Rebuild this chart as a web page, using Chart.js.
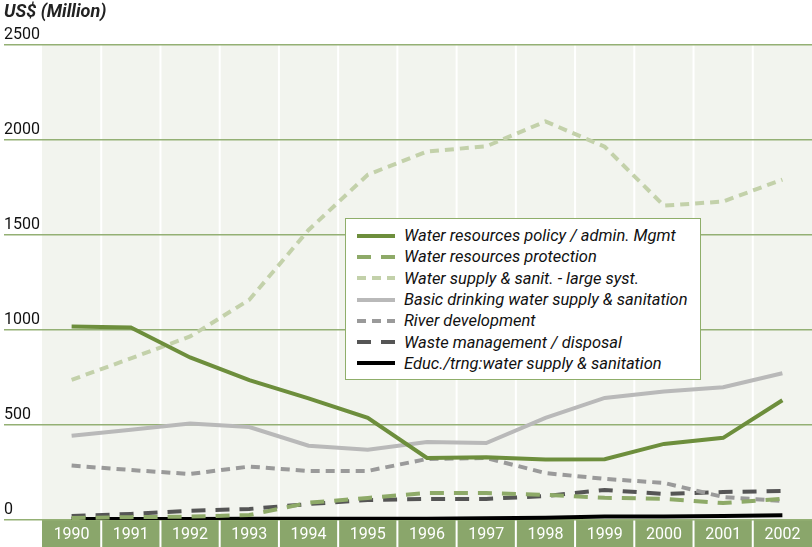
<!DOCTYPE html>
<html>
<head>
<meta charset="utf-8">
<script src="https://cdn.jsdelivr.net/npm/chart.js@4.4.0/dist/chart.umd.min.js"></script>
<style>
    html, body { margin: 0; padding: 0; background: #fff; }
    #wrap { position: relative; width: 812px; height: 547px; }
    #legend {
        position: absolute; left: 345px; top: 218px; width: 356px; height: 162px;
        background: #fff; border: 1.5px solid #8fae6a;
        font-family: Roboto, sans-serif;
        font-style: italic; font-size: 16.5px; color: #111;
        padding-top: 6px; box-sizing: border-box;
    }
    .item { display: flex; align-items: center; height: 21.3px; padding-left: 11px; }
    .item svg { margin-right: 9px; flex: none; }
</style>
</head>
<body>
<div id="wrap">
    <canvas id="chart" width="812" height="547"></canvas>
    <div id="legend"></div>
</div>
<script>
const years = ['1990', '1991', '1992', '1993', '1994', '1995', '1996', '1997', '1998', '1999', '2000', '2001', '2002'];
const yTicks = [0, 500, 1000, 1500, 2000, 2500];

const policyMgmt = [1017, 1012, 855, 735, 640, 537, 326, 330, 318, 320, 400, 432, 630];
const resourceProtection = [10, 15, 18, 26, 91, 116, 142, 142, 132, 117, 111, 89, 111];
const largeSystems = [737, 850, 965, 1158, 1525, 1816, 1938, 1965, 2096, 1963, 1653, 1675, 1790];
const basicDrinking = [443, 475, 508, 489, 391, 370, 410, 405, 537, 642, 676, 698, 772];
const riverDev = [286, 263, 242, 281, 258, 258, 321, 326, 247, 216, 195, 121, 100];
const wasteMgmt = [21, 32, 49, 58, 84, 105, 111, 111, 126, 158, 137, 147, 153];
const education = [5, 5, 5, 6, 6, 6, 7, 9, 12, 18, 19, 21, 25];

const baseFont = 'Roboto, sans-serif';

function series(label, data, color, dash) {
    return {
        label, data,
        borderColor: color,
        backgroundColor: color,
        borderWidth: 4,
        borderDash: dash,
        pointRadius: 0,
        tension: 0,
        fill: false
    };
}

// plot background, green label band and white column separators
const bandsPlugin = {
    id: 'bands',
    beforeDraw(chart) {
        const { ctx, chartArea, scales } = chart;
        const x = scales.x;
        ctx.save();
        ctx.fillStyle = '#f2f4ee';
        ctx.fillRect(chartArea.left, chartArea.top, chartArea.right - chartArea.left, chartArea.bottom - chartArea.top);
        ctx.fillStyle = '#8aa66b';
        ctx.fillRect(chartArea.left, chartArea.bottom, chartArea.right - chartArea.left, chart.height - chartArea.bottom);
        ctx.strokeStyle = '#fff';
        ctx.lineWidth = 2;
        for (let i = 1; i < years.length; i++) {
            const px = (x.getPixelForValue(i - 1) + x.getPixelForValue(i)) / 2;
            ctx.beginPath();
            ctx.moveTo(px, chartArea.top);
            ctx.lineTo(px, chart.height);
            ctx.stroke();
        }
        ctx.restore();
    }
};

const chart = new Chart(document.getElementById('chart'), {
    type: 'line',
    data: {
        labels: years,
        datasets: [
            series('Water resources policy / admin. Mgmt', policyMgmt, '#6d8e3c', []),
            series('Water resources protection', resourceProtection, '#8eaa68', [14, 10]),
            series('Water supply & sanit. - large syst.', largeSystems, '#c3d1aa', [9, 6]),
            series('Basic drinking water supply & sanitation', basicDrinking, '#b9b9b9', []),
            series('River development', riverDev, '#9a9a9a', [9, 6]),
            series('Waste management / disposal', wasteMgmt, '#555555', [14, 10]),
            series('Educ./trng:water supply & sanitation', education, '#000000', [])
        ]
    },
    options: {
        responsive: false,
        animation: false,
        layout: { padding: { left: 4, right: 0, top: 0, bottom: 0 } },
        plugins: {
            legend: { display: false },
            tooltip: { enabled: false },
            title: {
                display: true,
                text: 'US$ (Million)',
                align: 'start',
                color: '#222',
                font: { family: baseFont, size: 18, style: 'italic', weight: 'bold' },
                padding: { top: 2, bottom: 21 }
            }
        },
        scales: {
            x: {
                offset: true,
                grid: { display: false, drawTicks: false },
                border: { display: false },
                ticks: { color: '#fff', font: { family: baseFont, size: 16 }, padding: 5, maxRotation: 0 },
                afterFit(scale) { scale.height = 27; }
            },
            y: {
                min: 0,
                max: 2500,
                afterBuildTicks(scale) { scale.ticks = yTicks.map(v => ({ value: v })); },
                grid: { color: '#94b074', lineWidth: 1.5, drawTicks: true, tickLength: 38, tickColor: '#94b074' },
                border: { display: false },
                ticks: {
                    color: '#111',
                    font: { family: baseFont, size: 16 },
                    crossAlign: 'far',
                    labelOffset: -10,
                    callback: v => String(v)
                },
                afterFit(scale) { scale.width = 38; }
            }
        }
    },
    plugins: [bandsPlugin]
});

// legend box built from the datasets
const legend = document.getElementById('legend');
chart.data.datasets.forEach(ds => {
    const item = document.createElement('div');
    item.className = 'item';
    const dash = ds.borderDash.length ? ds.borderDash.join(' ') : 'none';
    item.innerHTML = `<svg width="38" height="8"><line x1="0" y1="4" x2="38" y2="4" stroke="${ds.borderColor}" stroke-width="4" stroke-dasharray="${dash}"/></svg><span></span>`;
    item.querySelector('span').textContent = ds.label;
    legend.appendChild(item);
});
</script>
</body>
</html>
